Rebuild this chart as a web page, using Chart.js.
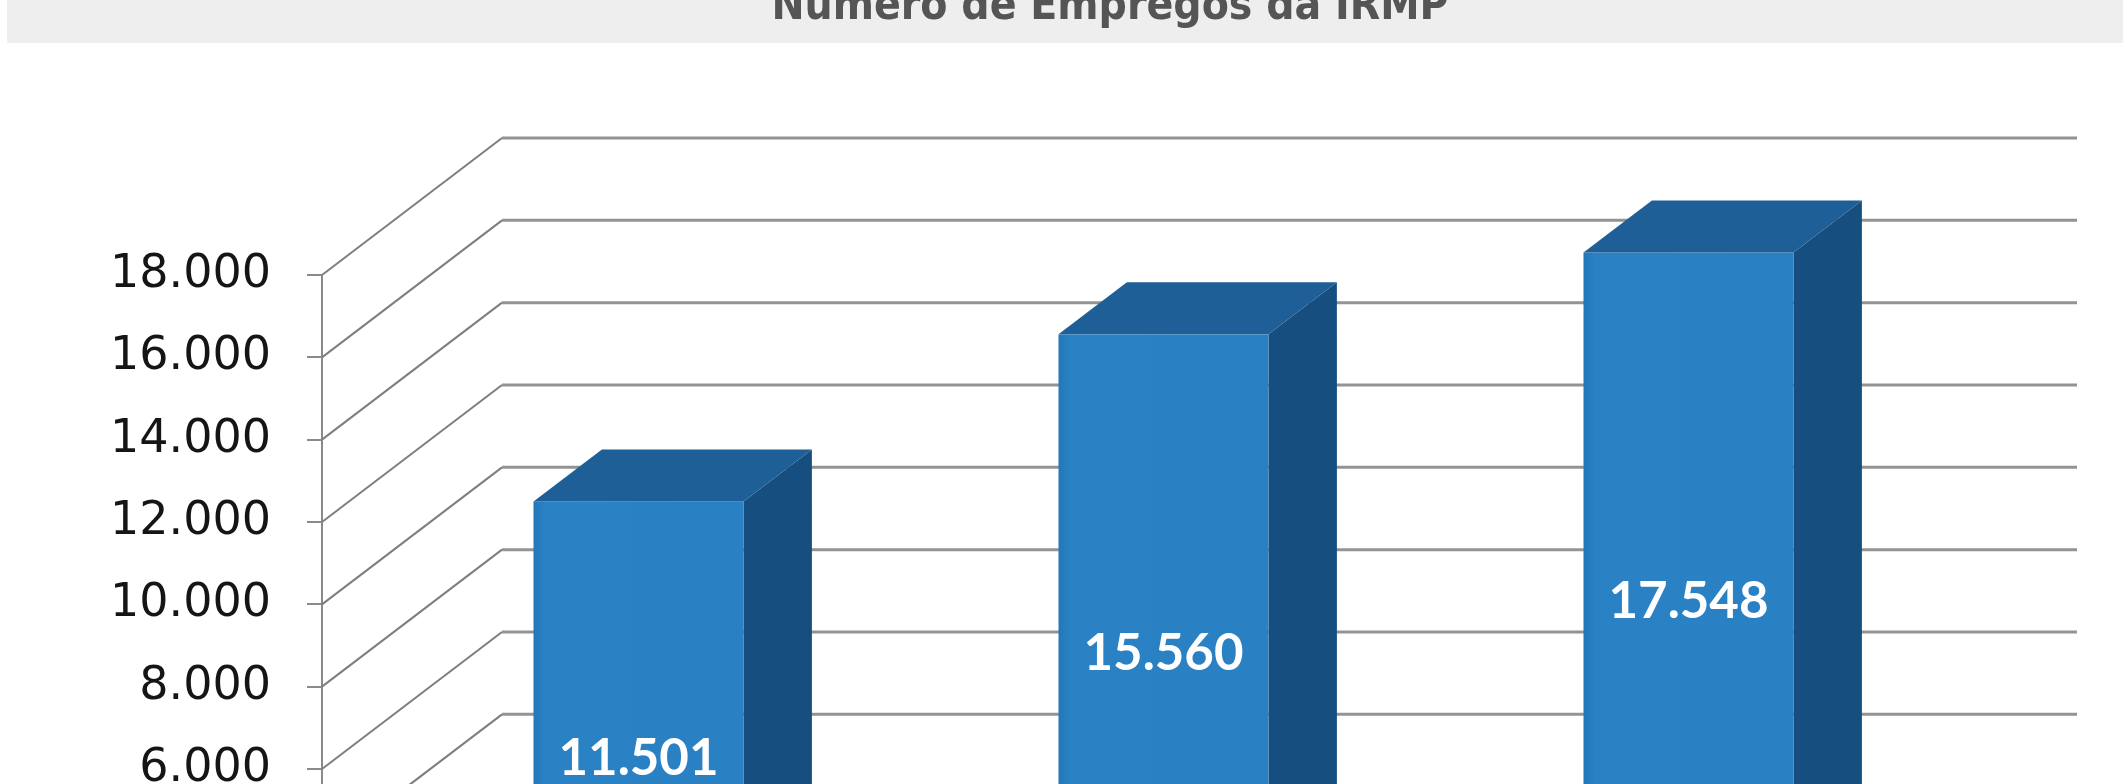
<!DOCTYPE html>
<html>
<head>
<meta charset="utf-8">
<script src="https://cdn.jsdelivr.net/npm/chart.js@4.4.1/dist/chart.umd.min.js"></script>
<style>
  html, body { margin: 0; padding: 0; width: 2123px; height: 784px; overflow: hidden; background: #ffffff; }
  canvas { display: block; }
</style>
</head>
<body>
<canvas id="chart" width="2123" height="1100"></canvas>
<script>
// ---- data ----
const titleText = 'Número de Empregos da IRMP';
const categories = ['Ano 1', 'Ano 2', 'Ano 3'];
const empregos = [11501, 15560, 17548];
const dataLabels = ['11.501', '15.560', '17.548'];
const yTickValues = [0, 2000, 4000, 6000, 8000, 10000, 12000, 14000, 16000, 18000];
const yTickLabels = ['0', '2.000', '4.000', '6.000', '8.000', '10.000', '12.000', '14.000', '16.000', '18.000'];

// ---- 3D look (styles) ----
const DEPTH = { dx: 180, dy: -137 };
const BAR_FRONT = 0.30, BAR_BACK = 0.68;
const LABEL_FRAC = 0.63, LABEL_SHIFT = 41;

const threeD = {
  id: 'threeD',
  beforeDraw(chart) {
    const ctx = chart.ctx;
    ctx.save();
    ctx.fillStyle = '#ffffff';
    ctx.fillRect(0, 0, chart.width, chart.height);
    ctx.fillStyle = '#eeeeee';
    ctx.fillRect(7, 0, chart.width - 7, 43);
    ctx.font = 'bold 44px "DejaVu Sans Condensed", "DejaVu Sans"';
    ctx.textAlign = 'center';
    ctx.textBaseline = 'alphabetic';
    ctx.fillStyle = '#555555';
    ctx.fillText(titleText, 1110, 19);
    ctx.restore();
  },
  beforeDatasetsDraw(chart) {
    const ctx = chart.ctx, y = chart.scales.y, area = chart.chartArea;
    ctx.save();
    yTickValues.forEach(v => {
      const py = y.getPixelForValue(v);
      ctx.strokeStyle = '#7e7e7e';
      ctx.lineWidth = 2;
      ctx.beginPath();
      ctx.moveTo(area.left, py);
      ctx.lineTo(area.left + DEPTH.dx, py + DEPTH.dy);
      ctx.stroke();
      ctx.strokeStyle = '#939393';
      ctx.lineWidth = 3;
      ctx.beginPath();
      ctx.moveTo(area.left + DEPTH.dx, py + DEPTH.dy);
      ctx.lineTo(area.right + DEPTH.dx, py + DEPTH.dy);
      ctx.stroke();
    });
    ctx.restore();
  },
  beforeDatasetDraw() { return false; },
  afterDatasetsDraw(chart) {
    const ctx = chart.ctx;
    const meta = chart.getDatasetMeta(0);
    const fx = DEPTH.dx * BAR_FRONT, fy = DEPTH.dy * BAR_FRONT;
    const ddx = DEPTH.dx * (BAR_BACK - BAR_FRONT), ddy = DEPTH.dy * (BAR_BACK - BAR_FRONT);
    ctx.save();
    meta.data.forEach((el, i) => {
      const p = el.getProps(['x', 'y', 'base', 'width'], true);
      const L = p.x - p.width / 2 + fx, R = p.x + p.width / 2 + fx;
      const T = p.y + fy, B = p.base + fy;
      // side
      ctx.fillStyle = '#174e80';
      ctx.beginPath();
      ctx.moveTo(R, T); ctx.lineTo(R + ddx, T + ddy); ctx.lineTo(R + ddx, B + ddy); ctx.lineTo(R, B);
      ctx.closePath(); ctx.fill();
      // front
      const g = ctx.createLinearGradient(L, 0, R, 0);
      g.addColorStop(0, '#2277ba');
      g.addColorStop(0.06, '#2a82c4');
      g.addColorStop(1, '#2980c2');
      ctx.fillStyle = g;
      ctx.fillRect(L, T, R - L, B - T);
      // top
      ctx.fillStyle = '#1f5f98';
      ctx.beginPath();
      ctx.moveTo(L, T); ctx.lineTo(L + ddx, T + ddy); ctx.lineTo(R + ddx, T + ddy); ctx.lineTo(R, T);
      ctx.closePath(); ctx.fill();
      // label
      const ly = p.base + LABEL_FRAC * (p.y - p.base) + LABEL_SHIFT;
      ctx.fillStyle = '#ffffff';
      ctx.font = 'bold 51px Lato';
      ctx.textAlign = 'center';
      ctx.textBaseline = 'middle';
      ctx.fillText(dataLabels[i], (L + R) / 2, ly);
    });
    ctx.restore();
  }
};

new Chart(document.getElementById('chart'), {
  type: 'bar',
  data: {
    labels: categories,
    datasets: [{ data: empregos, backgroundColor: '#2980c2', barPercentage: 0.4, categoryPercentage: 1 }]
  },
  options: {
    responsive: false,
    animation: false,
    devicePixelRatio: 1,
    layout: { padding: { top: 275, right: 226, bottom: 84, left: 0 } },
    plugins: { legend: { display: false }, tooltip: { enabled: false }, title: { display: false } },
    scales: {
      x: { display: false, offset: true },
      y: {
        min: 0, max: 18000,
        afterFit(s) { s.width = 322; },
        afterBuildTicks(s) { s.ticks = yTickValues.map(v => ({ value: v })); },
        ticks: {
          autoSkip: false,
          callback: (v) => yTickLabels[yTickValues.indexOf(v)],
          padding: 36,
          color: '#151515',
          font: { family: 'DejaVu Sans', size: 46 }
        },
        grid: { drawOnChartArea: false, drawTicks: true, tickLength: 15, color: '#8a8a8a', lineWidth: 2 },
        border: { display: true, color: '#8a8a8a', width: 2 }
      }
    }
  },
  plugins: [threeD]
});
</script>
</body>
</html>
